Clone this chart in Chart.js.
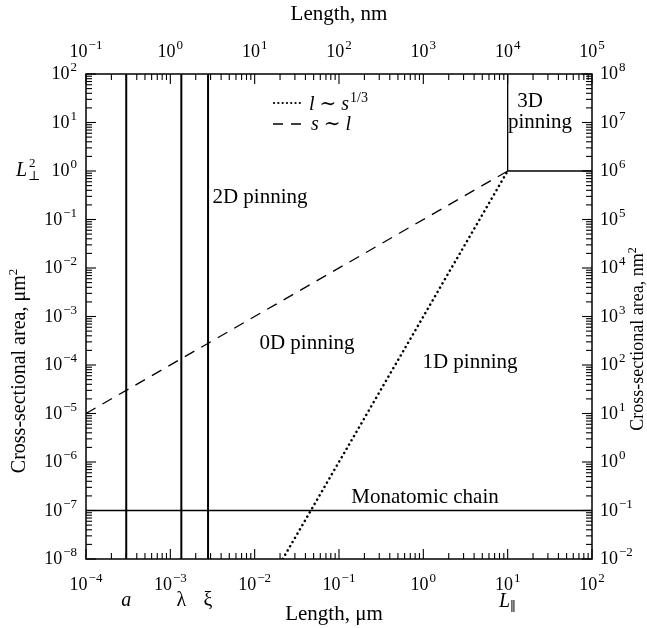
<!DOCTYPE html>
<html>
<head>
<meta charset="utf-8">
<script src="https://cdn.jsdelivr.net/npm/chart.js@4.4.0/dist/chart.umd.min.js"></script>
<style>
  html, body { margin: 0; padding: 0; background: #fff; }
  #wrap { width: 647px; height: 628px; }
</style>
</head>
<body>
<div id="wrap"><canvas id="pinning" width="647" height="628"></canvas></div>
<script>
// decade exponents shown on each axis
const xDecades = [-4, -3, -2, -1, 0, 1, 2];                   // length, µm
const xTopDecades = [-1, 0, 1, 2, 3, 4, 5];                   // length, nm
const yDecades = [-8, -7, -6, -5, -4, -3, -2, -1, 0, 1, 2];   // area, µm²
const yRightDecades = [-2, -1, 0, 1, 2, 3, 4, 5, 6, 7, 8];    // area, nm²

// characteristic lengths, µm
const scaleNames = ['a', 'λ', 'ξ'];
const scaleLengths = [3e-4, 1.35e-3, 2.8e-3];

// cross-section of a monatomic chain, µm²
const chainArea = 1e-7;

// s ~ l boundary (dashed)
const dashX = [1e-4, 10];
const dashY = [1e-5, 1];
// l ~ s^(1/3) boundary (dotted)
const dotX = [2.15e-2, 10];
const dotY = [1e-8, 1];
// corner of the 3D pinning region
const boxX = [10, 10, 100];
const boxY = [100, 1, 1];

const serif = '"Liberation Serif", "DejaVu Serif", serif';

function pts(xs, ys) {
  return xs.map((x, i) => ({ x: x, y: ys[i] }));
}

const datasets = [];
scaleLengths.forEach((l, i) => {
  datasets.push({ label: scaleNames[i], data: pts([l, l], [1e-8, 1e2]), borderWidth: 2 });
});
datasets.push({ label: 'chain', data: pts([1e-4, 1e2], [chainArea, chainArea]), borderWidth: 1.3 });
datasets.push({ label: 's ~ l', data: pts(dashX, dashY), borderWidth: 1.3, borderDash: [11, 8] });
datasets.push({ label: 'l ~ s^1/3', data: pts(dotX, dotY), borderWidth: 2.5,
  borderDash: [0.1, 4.8], borderCapStyle: 'round' });
datasets.push({ label: '3D', data: pts(boxX, boxY), borderWidth: 1.3 });
datasets.forEach(d => {
  d.showLine = true;
  d.borderColor = '#000';
  d.pointRadius = 0;
  d.fill = false;
});

// writes a sequence of text pieces with their own font and vertical shift
function runs(ctx, parts, x, y, align) {
  let w = 0;
  parts.forEach(p => { ctx.font = p.font; p.w = ctx.measureText(p.t).width; w += p.w + (p.gap || 0); });
  let left = align === 'center' ? x - w / 2 : align === 'right' ? x - w : x;
  ctx.textAlign = 'left';
  ctx.textBaseline = 'alphabetic';
  parts.forEach(p => {
    ctx.font = p.font;
    ctx.fillText(p.t, left, y + (p.dy || 0));
    left += p.w + (p.gap || 0);
  });
}

function pow10(ctx, e, x, y, align) {
  const sup = e < 0 ? '\u2212' + (-e) : String(e);
  runs(ctx, [
    { t: '10', font: '18px ' + serif, gap: 1 },
    { t: sup, font: '13px ' + serif, dy: -8 }
  ], x, y, align);
}

function logTicks(ctx, scale, decades, horizontal, edge, dir) {
  decades.forEach((e, i) => {
    for (let m = 1; m <= 9; m++) {
      if (i === decades.length - 1 && m > 1) break;
      const p = scale.getPixelForValue(m * Math.pow(10, e));
      const len = m === 1 ? 10 : 6;
      ctx.beginPath();
      if (horizontal) { ctx.moveTo(p, edge); ctx.lineTo(p, edge + dir * len); }
      else { ctx.moveTo(edge, p); ctx.lineTo(edge + dir * len, p); }
      ctx.stroke();
    }
  });
}

const frame = {
  id: 'frame',
  afterDatasetsDraw(chart) {
    const ctx = chart.ctx;
    const a = chart.chartArea;
    const sx = chart.scales.x, sy = chart.scales.y;
    const st = chart.scales.xTop, sr = chart.scales.yRight;
    ctx.save();
    ctx.strokeStyle = '#000';
    ctx.fillStyle = '#000';

    // box
    ctx.lineWidth = 1.5;
    ctx.strokeRect(a.left, a.top, a.right - a.left, a.bottom - a.top);

    // inward ticks on all four sides
    ctx.lineWidth = 1.1;
    logTicks(ctx, sx, xDecades, true, a.bottom, -1);
    logTicks(ctx, st, xTopDecades, true, a.top, 1);
    logTicks(ctx, sy, yDecades, false, a.left, 1);
    logTicks(ctx, sr, yRightDecades, false, a.right, -1);

    // tick labels
    xDecades.forEach(e => pow10(ctx, e, sx.getPixelForValue(Math.pow(10, e)), 590, 'center'));
    xTopDecades.forEach(e => pow10(ctx, e, st.getPixelForValue(Math.pow(10, e)), 57, 'center'));
    yDecades.forEach(e => pow10(ctx, e, a.left - 9, sy.getPixelForValue(Math.pow(10, e)) + 5, 'right'));
    yRightDecades.forEach(e => pow10(ctx, e, a.right + 8, sr.getPixelForValue(Math.pow(10, e)) + 5, 'left'));

    // axis titles
    ctx.font = '21px ' + serif;
    ctx.textAlign = 'center';
    ctx.textBaseline = 'middle';
    ctx.fillText('Length, nm', 339, 14);
    ctx.fillText('Length, μm', 334, 614);
    ctx.save();
    ctx.translate(18, 371);
    ctx.rotate(-Math.PI / 2);
    runs(ctx, [{ t: 'Cross-sectional area, μm', font: '20px ' + serif }, { t: '2', font: '13px ' + serif, dy: -8 }], 0, 7, 'center');
    ctx.restore();
    ctx.save();
    ctx.translate(637, 339);
    ctx.rotate(-Math.PI / 2);
    runs(ctx, [{ t: 'Cross-sectional area, nm', font: '18px ' + serif }, { t: '2', font: '12px ' + serif, dy: -7 }], 0, 6, 'center');
    ctx.restore();

    // characteristic length markers under the axis
    const it = 'italic 20px ' + serif;
    scaleNames.forEach((n, i) => {
      runs(ctx, [{ t: n, font: (n === 'a' ? it : '20px ' + serif) }], sx.getPixelForValue(scaleLengths[i]), 606, 'center');
    });
    const lx = sx.getPixelForValue(boxX[0]);
    runs(ctx, [{ t: 'L', font: it, gap: 0 }, { t: '\u2225', font: '13px ' + serif, dy: 4 }], lx, 607, 'center');

    // L⊥² next to the 10^0 label
    const ly = sy.getPixelForValue(boxY[1]) + 5;
    ctx.font = it;
    ctx.textAlign = 'left';
    ctx.fillText('L', 16, ly);
    ctx.font = '13px ' + serif;
    ctx.fillText('2', 29, ly - 9);
    ctx.fillText('\u22A5', 28, ly + 4);

    // region names
    ctx.font = '21px ' + serif;
    ctx.textAlign = 'center';
    ctx.textBaseline = 'middle';
    ctx.fillText('2D pinning', 260, 197);
    ctx.fillText('0D pinning', 307, 343);
    ctx.fillText('1D pinning', 470, 362);
    ctx.fillText('Monatomic chain', 425, 497);
    ctx.fillText('3D', 530, 101);
    ctx.fillText('pinning', 540, 122);

    // key for the two boundaries
    ctx.lineWidth = 2.2;
    ctx.lineCap = 'round';
    ctx.setLineDash([0.1, 4.2]);
    ctx.beginPath(); ctx.moveTo(274, 103); ctx.lineTo(303, 103); ctx.stroke();
    ctx.lineCap = 'butt';
    ctx.lineWidth = 1.3;
    ctx.setLineDash([10, 8]);
    ctx.beginPath(); ctx.moveTo(273, 124); ctx.lineTo(302, 124); ctx.stroke();
    ctx.setLineDash([]);
    runs(ctx, [
      { t: 'l', font: it }, { t: ' \u223C ', font: '20px ' + serif }, { t: 's', font: it, gap: 1 },
      { t: '1/3', font: '14px ' + serif, dy: -8 }
    ], 309, 110, 'left');
    runs(ctx, [
      { t: 's', font: it }, { t: ' \u223C ', font: '20px ' + serif }, { t: 'l', font: it }
    ], 311, 130, 'left');

    ctx.restore();
  }
};

new Chart(document.getElementById('pinning'), {
  type: 'scatter',
  data: { datasets: datasets },
  options: {
    responsive: false,
    animation: false,
    layout: { padding: { left: 86, right: 55, top: 74, bottom: 69 } },
    scales: {
      x: { type: 'logarithmic', min: 1e-4, max: 1e2, display: false },
      y: { type: 'logarithmic', min: 1e-8, max: 1e2, display: false },
      xTop: { type: 'logarithmic', position: 'top', axis: 'x', min: 1e-1, max: 1e5, display: false },
      yRight: { type: 'logarithmic', position: 'right', axis: 'y', min: 1e-2, max: 1e8, display: false }
    },
    elements: { line: { tension: 0 } },
    plugins: { legend: { display: false }, tooltip: { enabled: false } }
  },
  plugins: [frame]
});
</script>
</body>
</html>
